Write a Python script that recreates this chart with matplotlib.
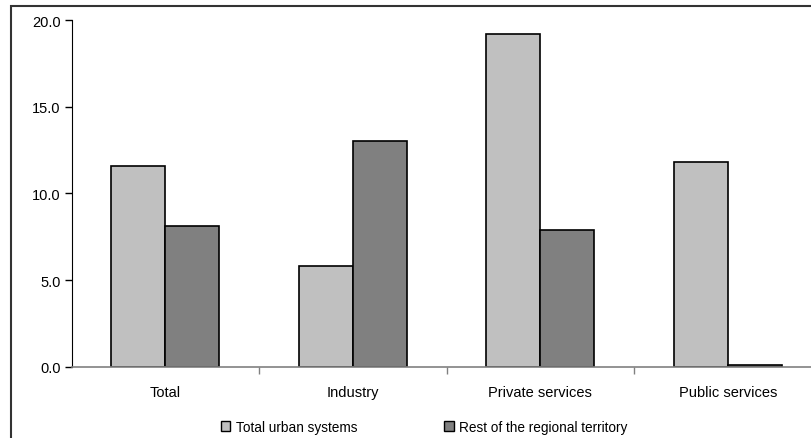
import numpy as np
import matplotlib.pyplot as plt
from matplotlib.patches import Rectangle, Patch

plt.rcParams['font.family'] = ['Liberation Sans', 'DejaVu Sans']

categories = ['Total', 'Industry', 'Private services', 'Public services']
urban = [11.6, 5.8, 19.2, 11.8]
rest = [8.1, 13.0, 7.9, 0.1]
series_names = ['Total urban systems', 'Rest of the regional territory']
yticks = [0.0, 5.0, 10.0, 15.0, 20.0]

fig = plt.figure(figsize=(8.11, 4.39), dpi=100)
ax = fig.add_axes([0.0882, 0.1624, 0.925, 0.7897])

x = np.arange(len(categories))
w = 0.288
ax.bar(x - w / 2, urban, w, color='#c0c0c0', edgecolor='black', linewidth=1.2)
ax.bar(x + w / 2, rest, w, color='#808080', edgecolor='black', linewidth=1.2)

ax.set_xlim(-0.5, len(categories) - 0.5)
ax.set_ylim(0, 20)
ax.set_yticks(yticks)
ax.set_yticklabels(['%.1f' % v for v in yticks], fontsize=10.5)

# ticks between groups, labels at group centres
ax.set_xticks(np.arange(0.5, len(categories) - 0.5, 1.0))
ax.set_xticklabels([])
ax.set_xticks(x, minor=True)
ax.set_xticklabels(categories, minor=True, fontsize=10.5)
ax.tick_params(axis='x', which='minor', length=0, pad=13)
ax.tick_params(axis='x', which='major', length=5, color='#808080', width=1)
ax.tick_params(axis='y', length=5, width=1, pad=3)

for s in ['top', 'right']:
    ax.spines[s].set_visible(False)
ax.spines['left'].set_color('black')
ax.spines['bottom'].set_color('#808080')
ax.spines['bottom'].set_linewidth(1.2)

handles = [Patch(facecolor='#c0c0c0', edgecolor='black'),
           Patch(facecolor='#808080', edgecolor='black')]
fig.legend(handles, series_names, loc='center', bbox_to_anchor=(0.523, 0.025),
           ncol=2, frameon=False, fontsize=9.8, handlelength=0.7,
           handleheight=0.7, handletextpad=0.4, columnspacing=6.4)

# outer chart frame
fig.add_artist(Rectangle((11 / 811, -0.1), 1.2, 1 - 6.5 / 439 + 0.1,
                         transform=fig.transFigure, fill=False,
                         edgecolor='#333333', linewidth=1.5))

fig.savefig('out.png', dpi=100)
